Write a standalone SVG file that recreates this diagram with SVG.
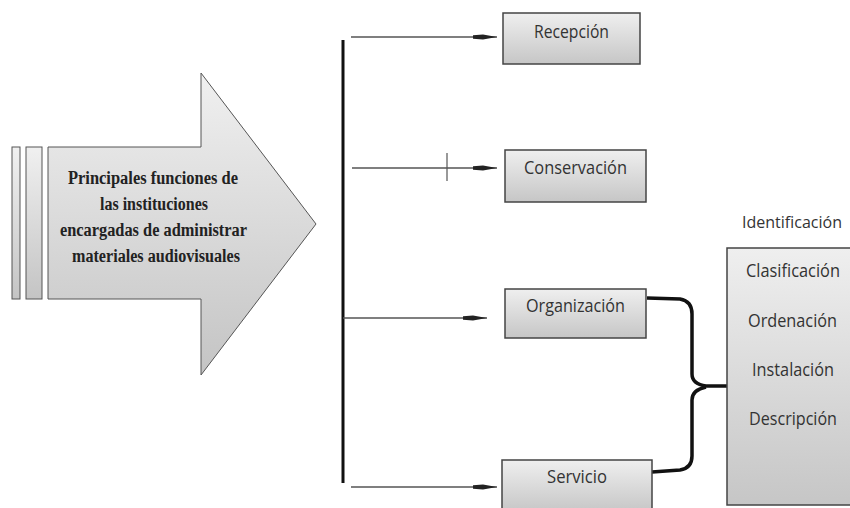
<svg xmlns="http://www.w3.org/2000/svg" width="850" height="508" viewBox="0 0 850 508">
<defs>
<linearGradient id="gBox" x1="0" y1="0" x2="0" y2="1">
<stop offset="0" stop-color="#efefef"/><stop offset="1" stop-color="#c6c6c6"/>
</linearGradient>
<linearGradient id="gArrow" x1="0" y1="0" x2="0" y2="1">
<stop offset="0" stop-color="#f0f0f0"/><stop offset="1" stop-color="#c4c4c4"/>
</linearGradient>
<marker id="ah" viewBox="0 0 24 6" refX="24" refY="3" markerWidth="24" markerHeight="6" markerUnits="userSpaceOnUse" orient="auto">
<path d="M0,1.2 L10,0.6 L24,3 L10,5.4 L0,4.8 Z" fill="#222"/>
</marker>
<style>
.box{fill:url(#gBox);stroke:#444;stroke-width:1.5}
.lbl{font-family:"Open Sans","Liberation Sans",sans-serif;font-size:18px;fill:#333;text-anchor:middle}
.ttl{font-family:"Liberation Serif",serif;font-weight:bold;font-size:18px;fill:#222;text-anchor:middle}
.con{stroke:#555;stroke-width:1.3;fill:none}
.br{stroke:#111;stroke-width:3.5;fill:none}
</style>
</defs>
<rect width="850" height="508" fill="#fff"/>
<g id="main">
<rect x="12" y="147" width="8" height="152" fill="url(#gArrow)" stroke="#555" stroke-width="1"/>
<rect x="26" y="147" width="16" height="152" fill="url(#gArrow)" stroke="#555" stroke-width="1"/>
<path d="M48,147 H201 V73 L316,224 L201,375 V299 H48 Z" fill="url(#gArrow)" stroke="#555" stroke-width="1"/>
<text class="ttl" x="153" y="184" textLength="170" lengthAdjust="spacingAndGlyphs">Principales funciones de</text>
<text class="ttl" x="154" y="210" textLength="108" lengthAdjust="spacingAndGlyphs">las instituciones</text>
<text class="ttl" x="153.5" y="236" textLength="187" lengthAdjust="spacingAndGlyphs">encargadas de administrar</text>
<text class="ttl" x="156" y="262" textLength="168" lengthAdjust="spacingAndGlyphs">materiales audiovisuales</text>
</g>
<g id="connectors">
<line x1="343" y1="40" x2="343" y2="483" stroke="#111" stroke-width="3"/>
<line class="con" x1="351" y1="37" x2="497" y2="37" marker-end="url(#ah)"/>
<line class="con" x1="352" y1="168" x2="497" y2="168" marker-end="url(#ah)"/>
<line x1="447" y1="153" x2="447" y2="181" stroke="#555" stroke-width="1.2"/>
<line class="con" x1="343" y1="318" x2="487" y2="318" marker-end="url(#ah)"/>
<line class="con" x1="351" y1="487" x2="497" y2="487" marker-end="url(#ah)"/>
<path class="br" d="M647,298 L680,299 Q692,301 692,314 L692,374 Q692,384 706,386 L740,386"/>
<path class="br" d="M652,472 L680,470 Q692,468 692,456 L692,400 Q692,390 706,387"/>
</g>
<g id="recepcion">
<rect class="box" x="503" y="13" width="137" height="51"/>
<text class="lbl" x="571.5" y="38" textLength="75" lengthAdjust="spacingAndGlyphs">Recepción</text>
</g>
<g id="conservacion">
<rect class="box" x="505" y="150" width="141" height="52"/>
<text class="lbl" x="575.5" y="174" textLength="103" lengthAdjust="spacingAndGlyphs">Conservación</text>
</g>
<g id="organizacion">
<rect class="box" x="505" y="289" width="141" height="49"/>
<text class="lbl" x="575.5" y="312" textLength="99" lengthAdjust="spacingAndGlyphs">Organización</text>
</g>
<g id="servicio">
<rect class="box" x="502" y="460" width="150" height="52"/>
<text class="lbl" x="577" y="483" textLength="60" lengthAdjust="spacingAndGlyphs">Servicio</text>
</g>
<g id="identificacion">
<text class="lbl" x="792" y="228" style="font-size:16.5px" textLength="100" lengthAdjust="spacingAndGlyphs">Identificación</text>
</g>
<g id="grupo">
<rect class="box" x="727" y="248" width="126" height="257"/>
<text class="lbl" x="793" y="277" textLength="94" lengthAdjust="spacingAndGlyphs">Clasificación</text>
<text class="lbl" x="792.5" y="327" textLength="89" lengthAdjust="spacingAndGlyphs">Ordenación</text>
<text class="lbl" x="793" y="376" textLength="82" lengthAdjust="spacingAndGlyphs">Instalación</text>
<text class="lbl" x="793" y="425" textLength="88" lengthAdjust="spacingAndGlyphs">Descripción</text>
</g>
</svg>
